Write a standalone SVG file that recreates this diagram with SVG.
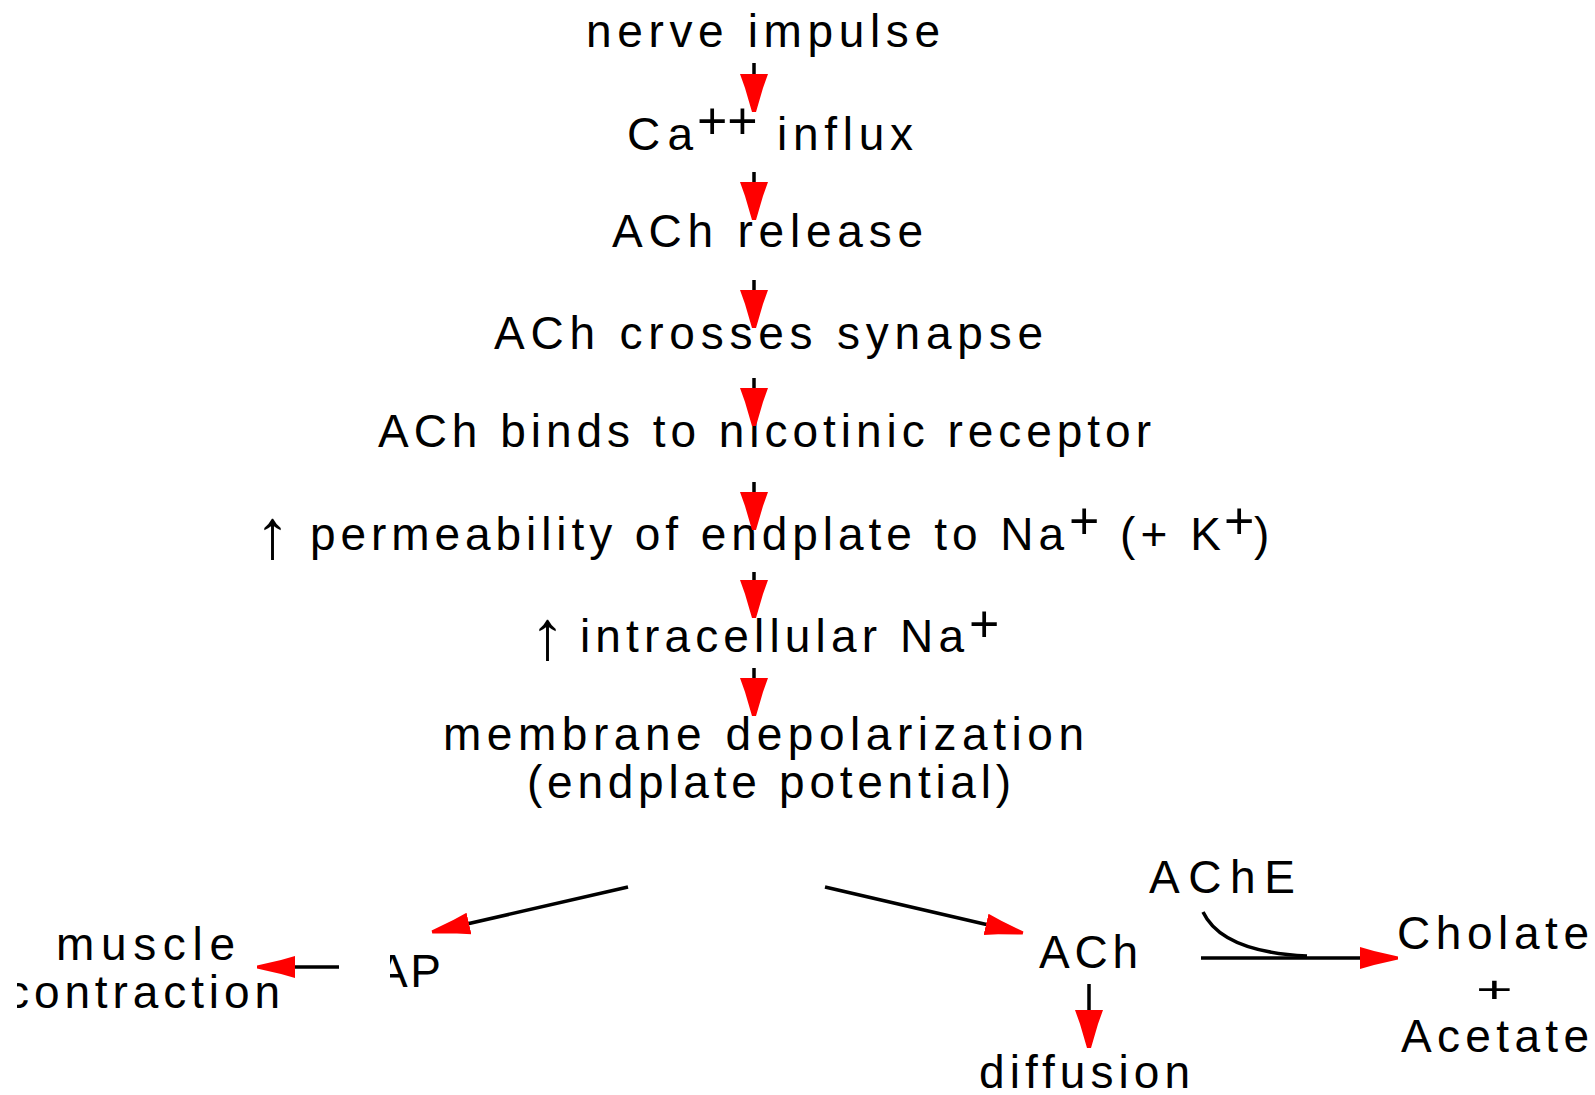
<svg xmlns="http://www.w3.org/2000/svg" width="1595" height="1095" viewBox="0 0 1595 1095">
<style>
.t{font-family:"Liberation Sans",Arial,"DejaVu Sans",sans-serif;font-size:46px;fill:#000}
.sp{font-family:"Liberation Sans",Arial,sans-serif;font-size:52px;fill:#000}
.up{font-family:"Liberation Sans",Arial,"DejaVu Sans",sans-serif;font-size:70px;fill:#000}
.ln{stroke:#000;stroke-width:3.5;fill:none}
.hb{marker-end:url(#hb)}
.hm{marker-end:url(#hm)}
</style>
<defs>
<marker id="hb" markerUnits="userSpaceOnUse" viewBox="0 -15 40 30" markerWidth="40" markerHeight="30" refX="28" refY="0" orient="auto">
<path d="M0,-14 L0,14 L14,9 L38,2 L38,-2 L14,-9 Z" fill="#ff0000"/>
</marker>
<marker id="hm" markerUnits="userSpaceOnUse" viewBox="0 -15 40 30" markerWidth="40" markerHeight="30" refX="28" refY="0" orient="auto">
<path d="M0,-11 L0,11 L14,7 L38,1.5 L38,-1.5 L14,-7 Z" fill="#ff0000"/>
</marker>
<clipPath id="clipAP"><rect x="390" y="930" width="80" height="70"/></clipPath>
<clipPath id="clipContr"><rect x="17" y="960" width="300" height="70"/></clipPath>
</defs>

<g id="n-nerve"><text class="t" x="586" y="47" textLength="354" lengthAdjust="spacing">nerve impulse</text></g>
<g id="n-ca">
<text class="t" x="627" y="150" textLength="66" lengthAdjust="spacing">Ca</text>
<text class="sp" x="697" y="139">++</text>
<text class="t" x="777" y="150" textLength="136" lengthAdjust="spacing">influx</text>
</g>
<g id="n-release"><text class="t" x="612" y="247" textLength="311" lengthAdjust="spacing">ACh release</text></g>
<g id="n-crosses"><text class="t" x="494" y="349" textLength="549" lengthAdjust="spacing">ACh crosses synapse</text></g>
<g id="n-binds"><text class="t" x="378" y="447" textLength="773" lengthAdjust="spacing">ACh binds to nicotinic receptor</text></g>
<g id="n-perm">
<text class="up" x="255" y="558">↑</text>
<text class="t" x="310" y="550" textLength="754" lengthAdjust="spacing">permeability of endplate to Na</text>
<text class="sp" x="1069" y="539">+</text>
<text class="t" x="1120" y="550" textLength="101" lengthAdjust="spacing">(+ K</text>
<text class="sp" x="1224" y="539">+</text>
<text class="t" x="1254" y="550">)</text>
</g>
<g id="n-intra">
<text class="up" x="530" y="659">↑</text>
<text class="t" x="580" y="652" textLength="384" lengthAdjust="spacing">intracellular Na</text>
<text class="sp" x="969" y="642">+</text>
</g>
<g id="n-depol">
<text class="t" x="443" y="750" textLength="641" lengthAdjust="spacing">membrane depolarization</text>
<text class="t" x="527" y="798" textLength="484" lengthAdjust="spacing">(endplate potential)</text>
</g>
<g id="n-ap"><text class="t" x="377" y="987" textLength="64" lengthAdjust="spacing" clip-path="url(#clipAP)">AP</text></g>
<g id="n-muscle">
<text class="t" x="56" y="960" textLength="179" lengthAdjust="spacing">muscle</text>
<text class="t" x="6" y="1008" textLength="274" lengthAdjust="spacing" clip-path="url(#clipContr)">contraction</text>
</g>
<g id="n-ach"><text class="t" x="1039" y="968" textLength="99" lengthAdjust="spacing">ACh</text></g>
<g id="n-diffusion"><text class="t" x="979" y="1088" textLength="211" lengthAdjust="spacing">diffusion</text></g>
<g id="n-ache"><text class="t" x="1149" y="893" textLength="146" lengthAdjust="spacing">AChE</text></g>
<g id="n-products">
<text class="t" x="1397" y="949" textLength="192" lengthAdjust="spacing">Cholate</text>
<text class="t" style="font-size:37px" transform="translate(1476,1002) scale(1.7,1)" x="0" y="0">+</text>
<text class="t" x="1401" y="1052" textLength="188" lengthAdjust="spacing">Acetate</text>
</g>

<g id="connectors">
<line class="ln hb" x1="754" y1="63" x2="754" y2="102"/>
<line class="ln hb" x1="754" y1="172" x2="754" y2="210"/>
<line class="ln hb" x1="754" y1="280" x2="754" y2="318"/>
<line class="ln hb" x1="754" y1="378" x2="754" y2="416"/>
<line class="ln hb" x1="754" y1="482" x2="754" y2="520"/>
<line class="ln hb" x1="754" y1="572" x2="754" y2="608"/>
<line class="ln hb" x1="754" y1="668" x2="754" y2="706"/>
<line class="ln hm" x1="628" y1="887" x2="441.7" y2="929.8"/>
<line class="ln hm" x1="825" y1="887" x2="1013.3" y2="930.7"/>
<line class="ln hm" x1="339" y1="967" x2="267" y2="967"/>
<line class="ln hm" x1="1201" y1="958" x2="1388" y2="958"/>
<line class="ln hb" x1="1089" y1="984" x2="1089" y2="1038"/>
<path class="ln" d="M1203,912 Q1222,952 1307,956"/>
</g>
</svg>
